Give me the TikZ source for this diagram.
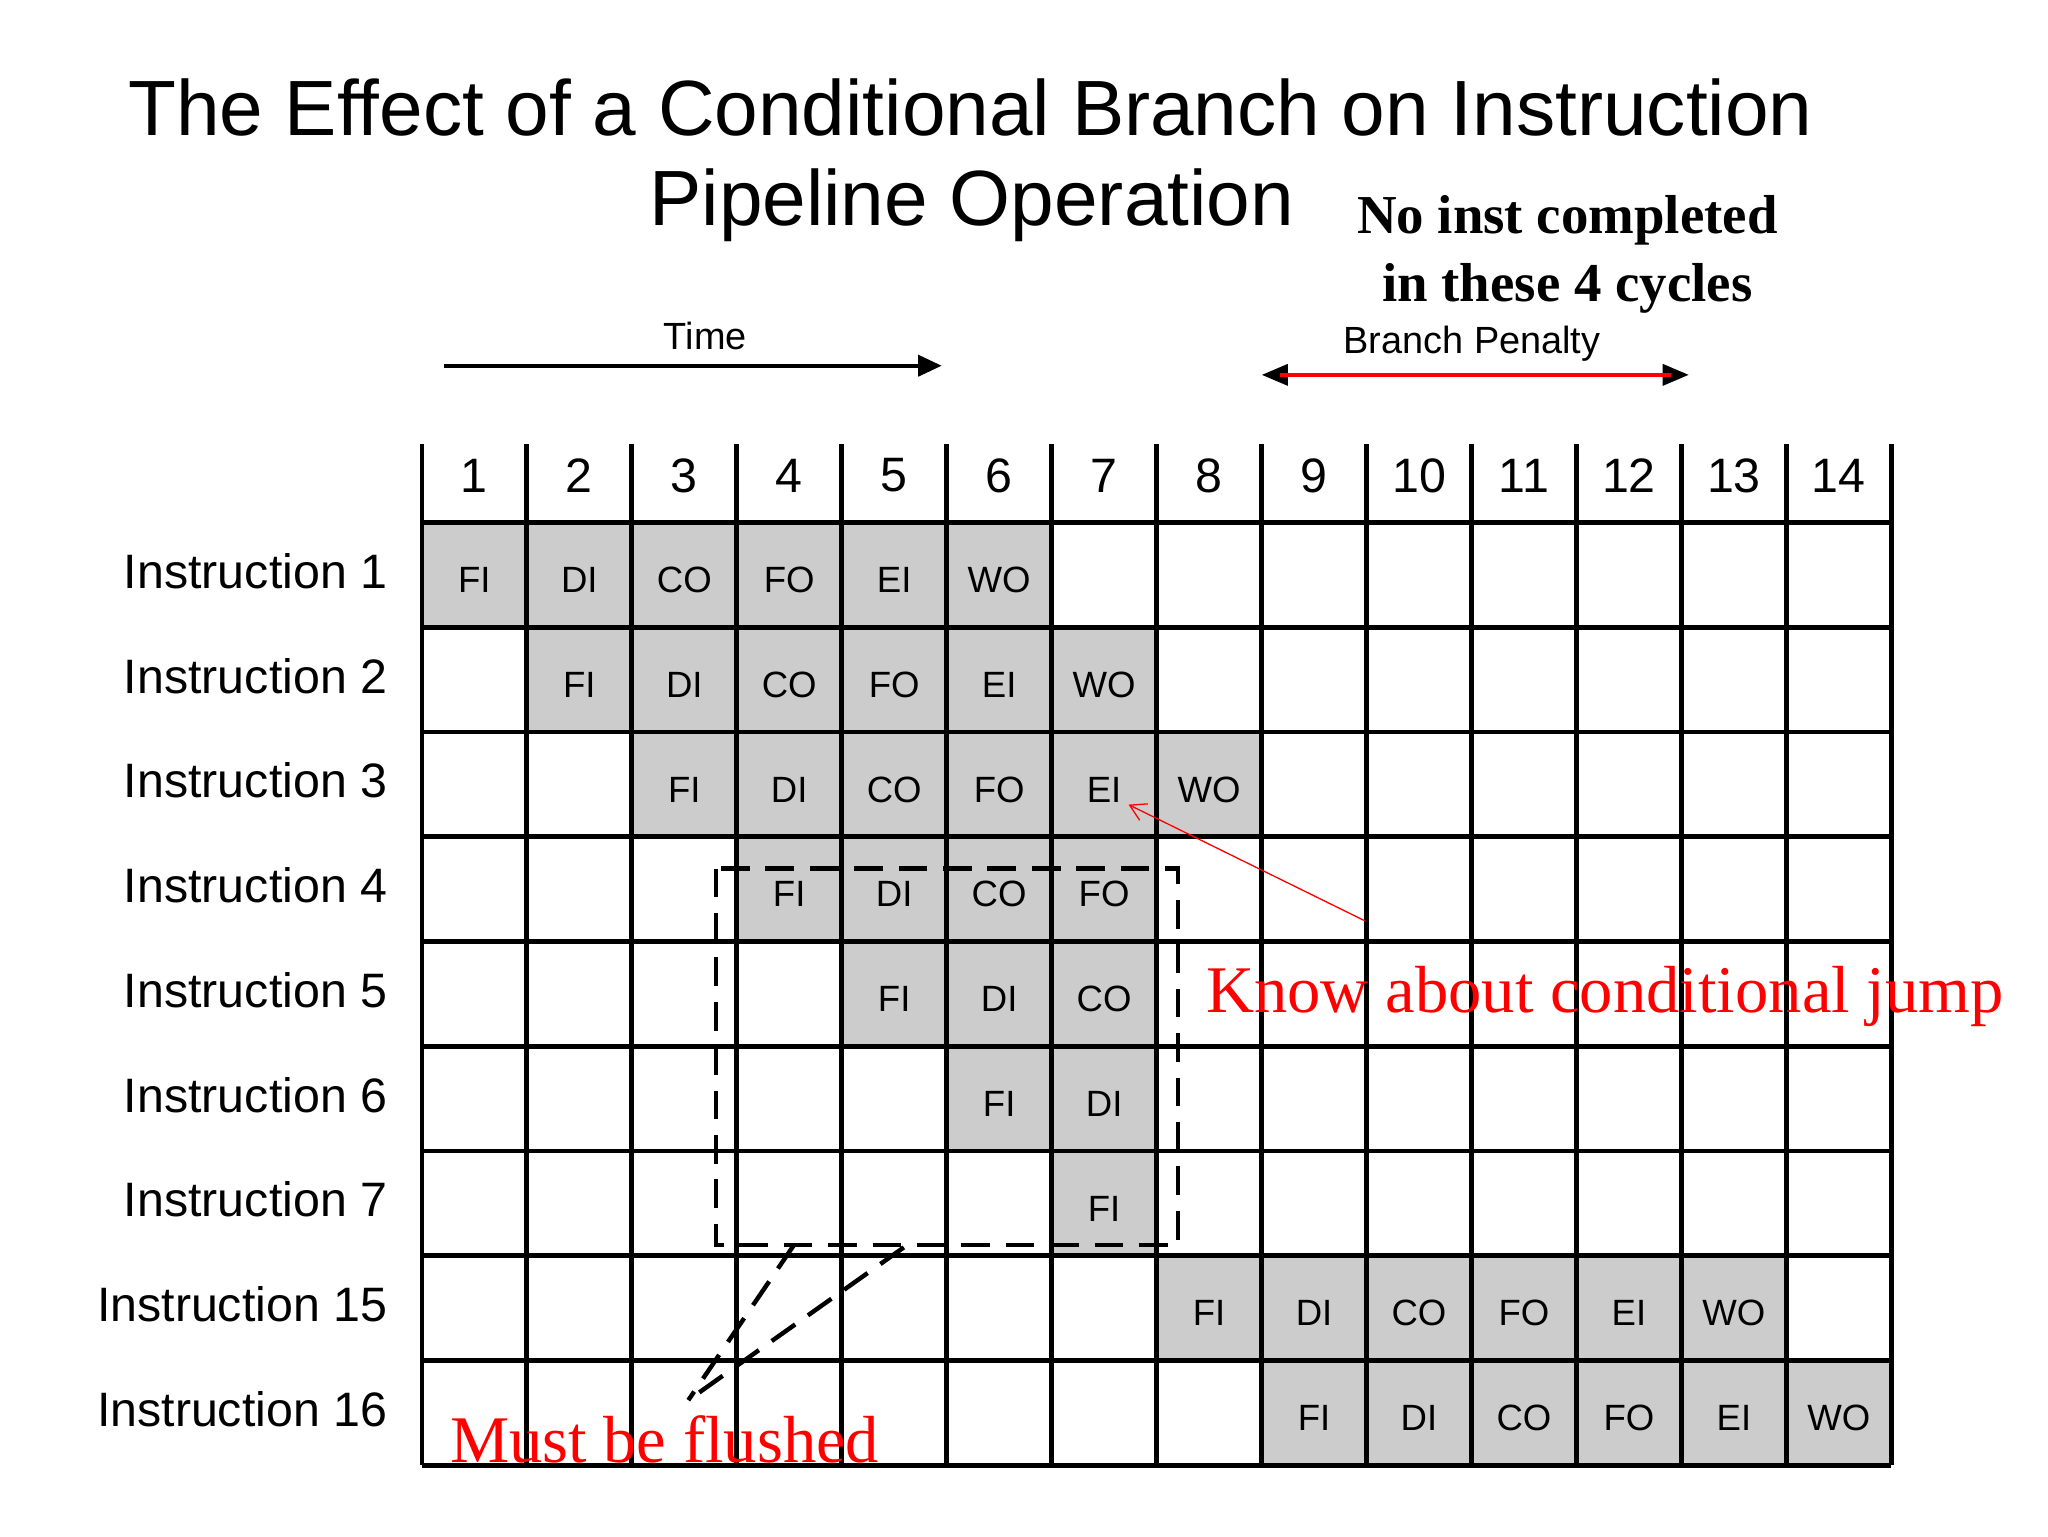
\documentclass[tikz,border=0pt]{standalone}
\usepackage{fontspec}
\setmainfont{Liberation Sans}
\newfontfamily\serifx{Liberation Serif}
\usetikzlibrary{arrows.meta}
\begin{document}
\begin{tikzpicture}[x=1pt,y=-1pt,
  gridline/.style={line width=3.6pt,black},
  cell/.style={font=\fontsize{28}{30}\selectfont},
  rowlab/.style={anchor=east,font=\fontsize{37}{40}\selectfont},
  hdr/.style={font=\fontsize{37}{40}\selectfont},
  redtxt/.style={red,font=\serifx\fontsize{51}{54}\selectfont},
  flush/.style={line width=3.4pt,dash pattern=on 22pt off 12pt}]
\useasboundingbox (0,0) rectangle (1568,1176);
\def\cw{80.36}
% gray cells
\foreach \r/\s/\labs in {1/1/{FI,DI,CO,FO,EI,WO},2/2/{FI,DI,CO,FO,EI,WO},3/3/{FI,DI,CO,FO,EI,WO},4/4/{FI,DI,CO,FO},5/5/{FI,DI,CO},6/6/{FI,DI},7/7/{FI},8/8/{FI,DI,CO,FO,EI,WO},9/9/{FI,DI,CO,FO,EI,WO}}{
  \foreach \t [count=\i from 0] in \labs {
    \pgfmathsetmacro\xa{323+(\s-1+\i)*\cw}
    \pgfmathsetmacro\ya{400+(\r-1)*80.2}
    \fill[gray!40] (\xa,\ya) rectangle ++(\cw,80.2);
    \node[cell] (c\r-\s-\i) at (\xa+\cw/2,\ya+44) {\t};
  }
}
% grid
\foreach \j in {0,...,14} \draw[gridline] (323+\j*\cw,340) -- (323+\j*\cw,1122);
\foreach \k in {0,...,9} \draw[gridline] (323,400+\k*80.2) -- (1448,400+\k*80.2);
\foreach \j in {1,...,14} \node[hdr] (h\j) at (323+\j*\cw-\cw/2,364) {\j};
\foreach \n/\l in {1/Instruction 1,2/Instruction 2,3/Instruction 3,4/Instruction 4,5/Instruction 5,6/Instruction 6,7/Instruction 7,8/Instruction 15,9/Instruction 16}
  \node[rowlab] (r\n) at (300,400+\n*80.2-43) {\l};
% title
\node[font=\fontsize{60}{64}\selectfont] (t1) at (743,82) {The Effect of a Conditional Branch on Instruction};
\node[font=\fontsize{60}{64}\selectfont] (t2) at (744,157) {Pipeline Operation};
\node[font=\serifx\bfseries\fontsize{42}{52}\selectfont,align=center] (noinst) at (1200,195) {No inst completed\\in these 4 cycles};
% time
\node[font=\fontsize{29}{30}\selectfont] (time) at (540,257) {Time};
\coordinate (ta) at (340,280); \coordinate (tb) at (721,280);
\draw[line width=3pt,-{Triangle[length=18pt,width=16pt]}] (ta) -- (tb);
\node[font=\fontsize{29}{30}\selectfont] (bp) at (1127,263) {Branch Penalty};
\coordinate (ba) at (966,287); \coordinate (bb) at (1293,287);
\draw[line width=3pt,{Triangle[length=20pt,width=16pt]}-{Triangle[length=20pt,width=16pt]}] (ba) -- (bb);
\draw[line width=3pt,red] ([xshift=14pt]ba) -- ([xshift=-14pt]bb);
% flushed box
\coordinate (fa) at (548,665); \coordinate (fb) at (902,953);
\draw[flush] (fa) rectangle (fb);
\coordinate (m1) at (608,953); \coordinate (m2) at (692,955); \coordinate (mp) at (527,1072);
\draw[flush] (m1) -- (mp);
\draw[flush] (m2) -- (mp);
\node[redtxt,anchor=west] (must) at (341,1102) {Must be flushed};
\node[redtxt,anchor=west] (know) at (920,763) {Know about conditional jump};
\coordinate (ka) at (1045,705);
\draw[red,line width=1pt,-{Straight Barb[length=12pt,width=14pt]}] (ka) -- (864,616);
\end{tikzpicture}
\end{document}
